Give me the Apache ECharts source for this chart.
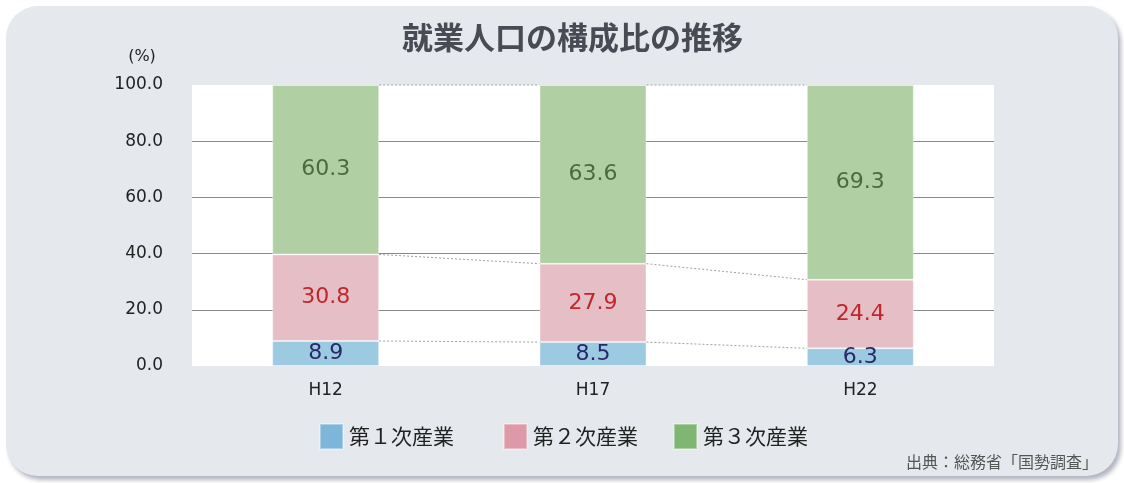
<!DOCTYPE html>
<html><head><meta charset="utf-8">
<script src="https://cdn.jsdelivr.net/npm/echarts@6/dist/echarts.min.js"></script>
<style>
html,body{margin:0;padding:0;background:#fff;width:1124px;height:483px;overflow:hidden;}
#card{position:absolute;left:6px;top:6px;width:1112px;height:470px;border-radius:32px;background:#e5e9ed;box-shadow:3px 4px 4px rgba(90,90,120,0.45);}
#chart{position:absolute;left:0;top:0;width:1124px;height:483px;}
</style></head>
<body><div id="card"></div><div id="chart"></div>
<script>
const categories = ['H12', 'H17', 'H22'];
const primaryIndustry = [8.9, 8.5, 6.3];
const secondaryIndustry = [30.8, 27.9, 24.4];
const tertiaryIndustry = [60.3, 63.6, 69.3];
const seriesNames = ['第１次産業', '第２次産業', '第３次産業'];
const titleText = '就業人口の構成比の推移';
const sourceText = '出典：総務省「国勢調査」';
const unitText = '(%)';

const barColors = ['#9ccae0', '#e5bec6', '#b0cfa3'];
const legendColors = ['#7eb6d9', '#dd99a6', '#80b674'];
const labelColors = ['#28286a', '#c0262c', '#4b6b3c'];
const seriesData = [primaryIndustry, secondaryIndustry, tertiaryIndustry];

// cumulative boundaries for connector lines
const boundaries = [];
let cum = categories.map(() => 0);
seriesData.forEach(arr => {
  cum = cum.map((c, i) => c + arr[i]);
  boundaries.push(cum.slice());
});
const connectorData = [];
boundaries.forEach(b => {
  for (let j = 0; j < categories.length - 1; j++) connectorData.push([j, b[j], b[j + 1]]);
});

const chart = echarts.init(document.getElementById('chart'));
const numFont = 'DejaVu Sans';
const cjkFont = 'Noto Sans CJK JP';

const barSeries = seriesData.map((arr, k) => ({
  name: seriesNames[k],
  type: 'bar',
  stack: 'total',
  barWidth: '40%',
  data: arr,
  itemStyle: { color: barColors[k], borderColor: 'rgba(255,255,255,0.35)', borderWidth: 1 },
  label: {
    show: true, position: 'inside',
    formatter: p => Number(p.value).toFixed(1),
    color: labelColors[k], fontSize: 22, fontFamily: numFont
  },
  emphasis: { disabled: true },
  z: 3
}));

const legends = seriesNames.map((n, k) => ({
  data: [{ name: n, itemStyle: { color: legendColors[k] } }],
  left: [319, 503, 673][k], top: 423, padding: 0,
  itemWidth: 23, itemHeight: 25, icon: 'rect',
  selectedMode: false,
  textStyle: { fontSize: 21, color: '#222', fontFamily: cjkFont, padding: [0, 0, 0, 1] }
}));

chart.setOption({
  animation: false,
  title: [
    { text: titleText, left: 402, top: 22, padding: 0,
      textStyle: { fontSize: 31, fontWeight: 'bold', color: '#4a4a55', fontFamily: cjkFont } },
    { text: sourceText, right: 26, top: 454, padding: 0,
      textStyle: { fontSize: 16, fontWeight: 'normal', color: '#555', fontFamily: cjkFont } }
  ],
  legend: legends,
  grid: { left: 192, right: 130, top: 85, bottom: 117, show: true, backgroundColor: '#ffffff', borderWidth: 0 },
  xAxis: {
    type: 'category', data: categories,
    axisLine: { show: false }, axisTick: { show: false },
    axisLabel: { fontSize: 17, color: '#222', margin: 16, fontFamily: numFont }
  },
  yAxis: {
    type: 'value', min: 0, max: 100, interval: 20,
    name: unitText, nameLocation: 'end', nameGap: 20,
    nameTextStyle: { fontSize: 16, color: '#222', fontFamily: numFont, align: 'center', padding: [0, 100, 0, 0] },
    axisLine: { show: false }, axisTick: { show: false },
    axisLabel: { fontSize: 17, color: '#222', margin: 29, fontFamily: numFont, formatter: v => v.toFixed(1) },
    splitLine: { show: true, showMinLine: false, showMaxLine: false, lineStyle: { color: '#8a8a8a', width: 1 } }
  },
  series: barSeries.concat([{
    name: 'connectors',
    type: 'custom',
    data: connectorData,
    silent: true,
    z: 2,
    renderItem: (params, api) => {
      const j = api.value(0);
      const p1 = api.coord([j, api.value(1)]);
      const p2 = api.coord([j + 1, api.value(2)]);
      const bw = api.size([1, 0])[0] * 0.4;
      return {
        type: 'line',
        shape: { x1: p1[0] + bw / 2, y1: p1[1], x2: p2[0] - bw / 2, y2: p2[1] },
        style: { stroke: '#a0a0a0', lineWidth: 1, lineDash: [2, 2] }
      };
    }
  }])
});
</script></body></html>
